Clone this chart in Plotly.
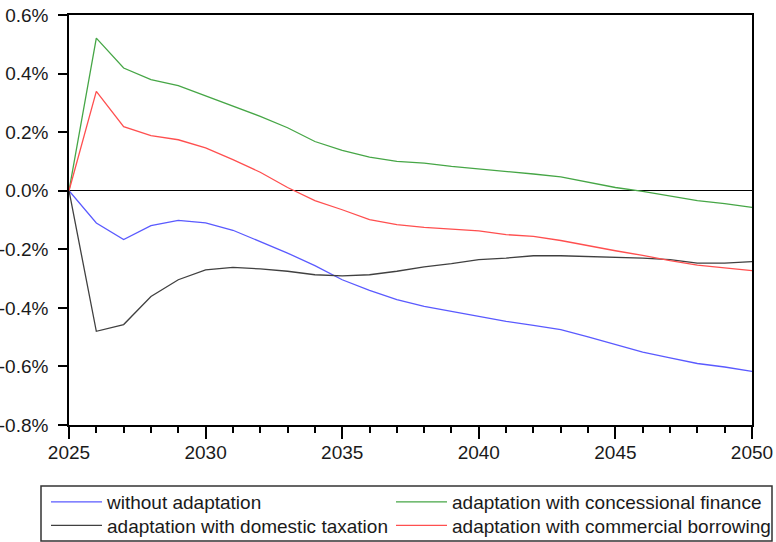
import plotly.graph_objects as go

years = list(range(2025, 2051))

without_adaptation = [0.0, -0.110, -0.167, -0.119, -0.101, -0.110, -0.135, -0.173, -0.213, -0.256,
                      -0.304, -0.340, -0.372, -0.395, -0.412, -0.429, -0.446, -0.460, -0.474, -0.499,
                      -0.526, -0.551, -0.571, -0.590, -0.602, -0.617]
concessional_finance = [0.0, 0.521, 0.419, 0.379, 0.359, 0.324, 0.290, 0.254, 0.215, 0.168,
                        0.138, 0.115, 0.100, 0.094, 0.083, 0.075, 0.066, 0.057, 0.047, 0.028,
                        0.011, -0.002, -0.019, -0.034, -0.044, -0.057]
domestic_taxation = [0.0, -0.480, -0.457, -0.361, -0.304, -0.270, -0.262, -0.267, -0.275, -0.287,
                     -0.291, -0.287, -0.275, -0.260, -0.249, -0.235, -0.230, -0.222, -0.222, -0.225,
                     -0.226, -0.230, -0.235, -0.247, -0.247, -0.242]
commercial_borrowing = [0.0, 0.339, 0.219, 0.188, 0.174, 0.146, 0.106, 0.063, 0.011, -0.034,
                        -0.065, -0.099, -0.116, -0.125, -0.131, -0.137, -0.150, -0.156, -0.170, -0.188,
                        -0.205, -0.221, -0.239, -0.254, -0.264, -0.273]

series_names = ["without adaptation", "adaptation with concessional finance",
                "adaptation with domestic taxation", "adaptation with commercial borrowing"]
series_colors = ["#5a5aff", "#46a646", "#404040", "#ff4f4f"]
series_legends = ["legend", "legend2", "legend3", "legend4"]

y_tickvals = [-0.8, -0.6, -0.4, -0.2, 0.0, 0.2, 0.4, 0.6]
y_ticktext = ["-0.8%", "-0.6%", "-0.4%", "-0.2%", "0.0%", "0.2%", "0.4%", "0.6%"]
x_tickvals = [2025, 2030, 2035, 2040, 2045, 2050]

FONT = "Liberation Sans, Arial, sans-serif"
W, H = 776, 542
L, R, T, B = 69, 24, 15, 117
PW, PH = W - L - R, H - T - B

fig = go.Figure()
for name, vals, col, lg in zip(series_names,
                               [without_adaptation, concessional_finance, domestic_taxation, commercial_borrowing],
                               series_colors, series_legends):
    fig.add_trace(go.Scatter(x=years, y=vals, mode="lines", name=name, legend=lg,
                             line=dict(color=col, width=1.3)))

# legend frame drawn as a shape (paper coordinates relative to plot area)
fig.add_shape(type="rect", xref="paper", yref="paper",
              x0=(41 - L) / PW, x1=(772 - L) / PW,
              y0=(H - B - 541) / PH, y1=(H - B - 486) / PH,
              line=dict(color="#333333", width=1.5), fillcolor="rgba(0,0,0,0)", layer="above")

legend_common = dict(
    orientation="v", xref="container", yref="container",
    xanchor="left", yanchor="top",
    borderwidth=0, bgcolor="rgba(0,0,0,0)",
    font=dict(family=FONT, size=19, color="#1a1a1a"),
    itemwidth=51, traceorder="normal",
)
col_x = [46, 391]
row_top = [483, 506.5]

fig.update_layout(
    width=W, height=H,
    margin=dict(l=L, r=R, t=T, b=B, autoexpand=False),
    paper_bgcolor="white", plot_bgcolor="white",
    font=dict(family=FONT, size=19, color="#1a1a1a"),
    showlegend=True,
    legend=dict(x=col_x[0] / W, y=1 - row_top[0] / H, **legend_common),
    legend2=dict(x=col_x[1] / W, y=1 - row_top[0] / H, **legend_common),
    legend3=dict(x=col_x[0] / W, y=1 - row_top[1] / H, **legend_common),
    legend4=dict(x=col_x[1] / W, y=1 - row_top[1] / H, **legend_common),
)
fig.update_xaxes(
    range=[2025, 2050], tickvals=x_tickvals, ticktext=[str(v) for v in x_tickvals],
    showgrid=False, zeroline=False,
    showline=True, mirror=True, linecolor="black", linewidth=1.5,
    ticks="outside", ticklen=12, tickwidth=1.5, tickcolor="black",
    ticklabelstandoff=-3,
    minor=dict(dtick=1, tick0=2025, ticks="outside", ticklen=6, tickwidth=1.5, tickcolor="black", showgrid=False),
)
fig.update_yaxes(
    range=[-0.8, 0.6], tickvals=y_tickvals, ticktext=y_ticktext,
    showgrid=False, zeroline=True, zerolinecolor="black", zerolinewidth=1.2,
    showline=True, mirror=True, linecolor="black", linewidth=1.5,
    ticks="outside", ticklen=9, tickwidth=1.5, tickcolor="black",
    ticklabelstandoff=6,
)

fig.write_html("out.html", config={"displayModeBar": False},
               post_script="document.body.style.margin='0';document.body.style.padding='0';")
